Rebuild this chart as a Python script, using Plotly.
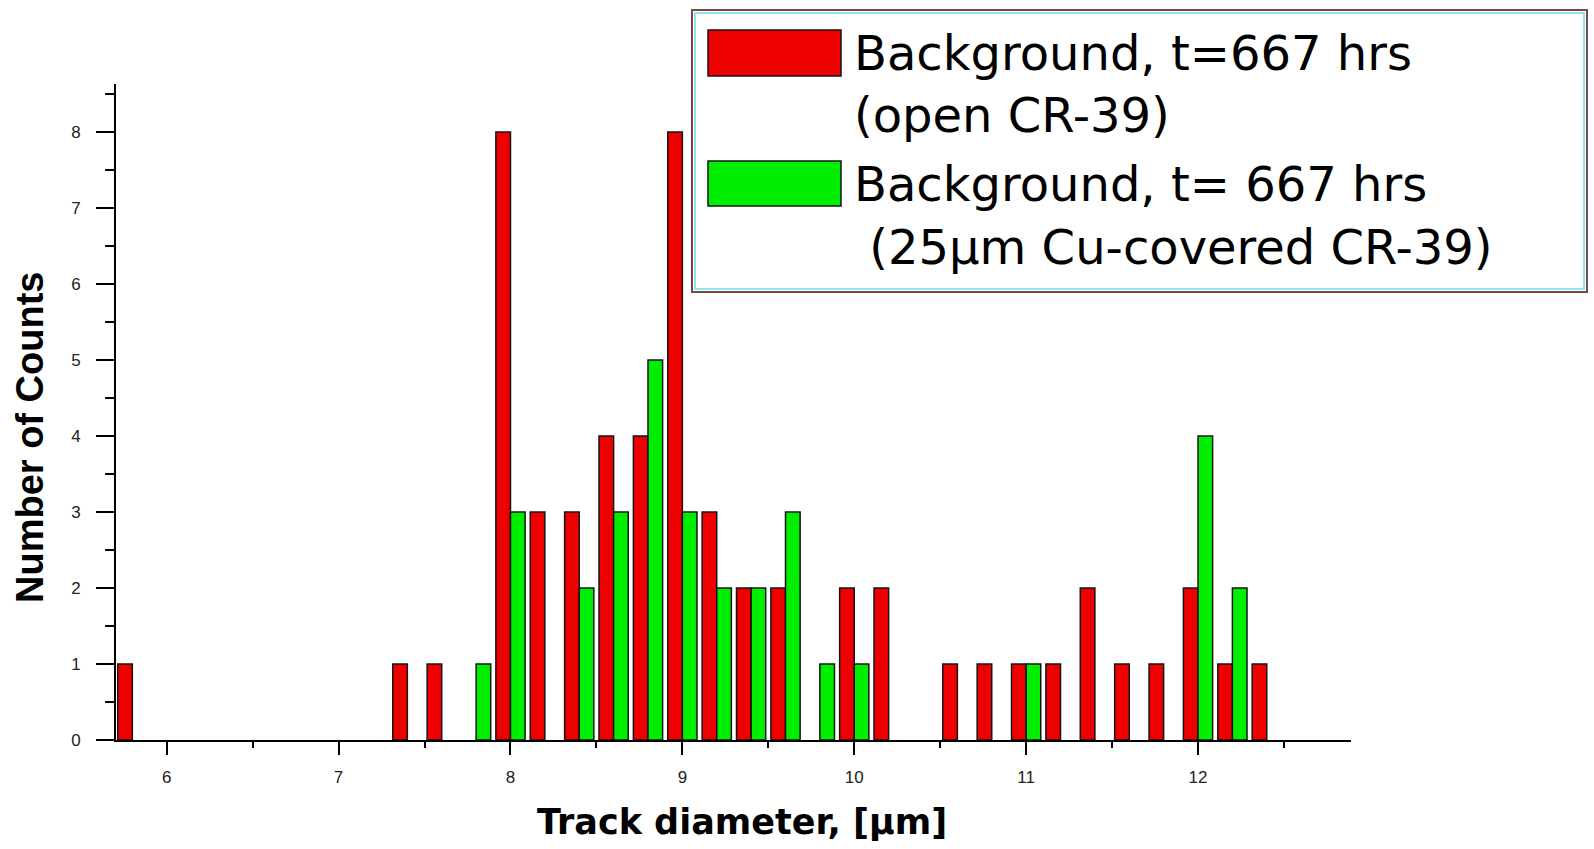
import plotly.graph_objects as go

# Track-diameter histogram (bin centres in µm, 0.2 µm bins)
open_diameters = [5.8, 7.4, 7.6, 8.0, 8.2, 8.4, 8.6, 8.8, 9.0, 9.2, 9.4, 9.6,
                  10.0, 10.2, 10.6, 10.8, 11.0, 11.2, 11.4, 11.6, 11.8, 12.0, 12.2, 12.4]
open_counts = [1, 1, 1, 8, 3, 3, 4, 4, 8, 3, 2, 2,
               2, 2, 1, 1, 1, 1, 2, 1, 1, 2, 1, 1]

cu_diameters = [7.8, 8.0, 8.4, 8.6, 8.8, 9.0, 9.2, 9.4, 9.6, 9.8, 10.0, 11.0, 12.0, 12.2]
cu_counts = [1, 3, 2, 3, 5, 3, 2, 2, 3, 1, 1, 1, 4, 2]

open_label = ["Background, t=667 hrs", "(open CR-39)"]
cu_label = ["Background, t= 667 hrs", " (25\u00b5m Cu-covered CR-39)"]

x_title = "Track diameter, [\u00b5m]"
y_title = "Number of Counts"

RED = "#ee0000"
GREEN = "#00ee00"
EDGE = "#151515"

W, H = 1594, 849
L, R, T, B = 116, 1351, 84, 740


def px(xp):
    return (xp - L) / (R - L)


def py(yp):
    return (B - yp) / (B - T)


fig = go.Figure()
fig.add_trace(go.Bar(x=open_diameters, y=open_counts, name=" ".join(open_label),
                     marker=dict(color=RED, line=dict(color=EDGE, width=1.5))))
fig.add_trace(go.Bar(x=cu_diameters, y=cu_counts, name=" ".join(cu_label),
                     marker=dict(color=GREEN, line=dict(color=EDGE, width=1.5))))

tick_font = dict(family="Liberation Sans, Arial, sans-serif", size=17, color="#222222")

fig.update_layout(
    width=W, height=H,
    margin=dict(l=L, r=W - R, t=T, b=H - B, pad=0),
    paper_bgcolor="white", plot_bgcolor="white",
    barmode="group", bargap=0.15, bargroupgap=0,
    showlegend=False,
    xaxis=dict(range=[5.705, 12.89], tick0=0, dtick=1, showgrid=False, zeroline=False,
               showline=True, linecolor="black", linewidth=2,
               ticks="outside", ticklen=13, tickwidth=2, tickcolor="black",
               ticklabelstandoff=8, tickfont=tick_font,
               minor=dict(dtick=0.5, ticks="outside", ticklen=6, tickwidth=2, tickcolor="black")),
    yaxis=dict(range=[0, 8.63], tick0=0, dtick=1, showgrid=False, zeroline=False,
               showline=True, linecolor="black", linewidth=2,
               ticks="outside", ticklen=18, tickwidth=2, tickcolor="black",
               ticklabelstandoff=12, tickfont=tick_font,
               minor=dict(dtick=0.5, ticks="outside", ticklen=9, tickwidth=2, tickcolor="black")),
)

# Axis titles
fig.add_annotation(text=f"<b>{x_title}</b>", xref="paper", yref="paper",
                   x=px(742), y=py(822), xanchor="center", yanchor="middle", showarrow=False,
                   font=dict(family="DejaVu Sans, sans-serif", size=35, color="black"))
fig.add_annotation(text=f"<b>{y_title}</b>", xref="paper", yref="paper", textangle=-90,
                   x=px(30), y=py(438), xanchor="center", yanchor="middle", showarrow=False,
                   font=dict(family="Liberation Sans, Arial, sans-serif", size=38, color="black"))

# Legend box
fig.add_shape(type="rect", xref="paper", yref="paper",
              x0=px(692), x1=px(1587), y0=py(292), y1=py(10),
              line=dict(color="#7a4646", width=2), fillcolor="white", layer="above")
fig.add_shape(type="rect", xref="paper", yref="paper",
              x0=px(695), x1=px(1584), y0=py(289), y1=py(13),
              line=dict(color="#8fe6ee", width=2), fillcolor="rgba(0,0,0,0)", layer="above")

# Legend swatches
for color, (y0, y1) in ((RED, (30, 76)), (GREEN, (161, 206))):
    fig.add_shape(type="rect", xref="paper", yref="paper",
                  x0=px(708), x1=px(841), y0=py(y1), y1=py(y0),
                  line=dict(color=EDGE, width=1.5), fillcolor=color, layer="above")

legend_font = dict(family="DejaVu Sans, sans-serif", size=48, color="black")
for text, yc in zip(open_label + cu_label, (53, 115, 184, 247)):
    fig.add_annotation(text=text, xref="paper", yref="paper", x=px(852), y=py(yc),
                       xanchor="left", yanchor="middle", showarrow=False, font=legend_font)

fig.write_html("out.html")
